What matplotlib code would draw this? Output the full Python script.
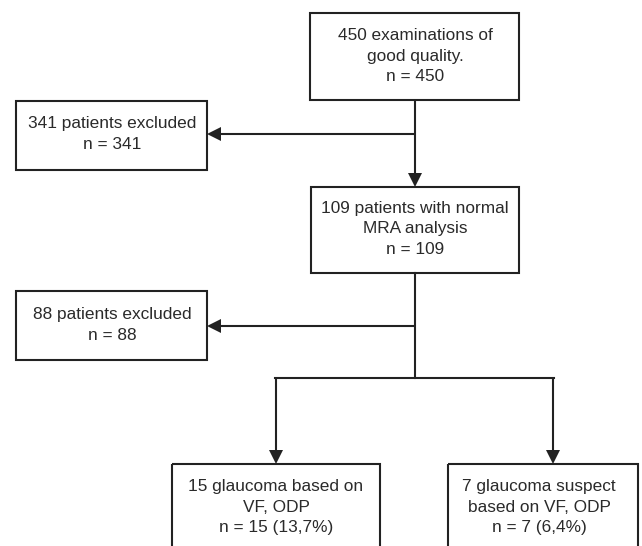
import matplotlib
matplotlib.use("Agg")
import matplotlib.pyplot as plt
from matplotlib.patches import Rectangle, Polygon

plt.rcParams['font.family'] = ['Liberation Sans', 'DejaVu Sans']

# Box texts (flow-chart content)
labels = [
    "450 examinations of\ngood quality.\nn = 450",
    "341 patients excluded\nn = 341",
    "109 patients with normal\nMRA analysis\nn = 109",
    "88 patients excluded\nn = 88",
    "15 glaucoma based on\nVF, ODP\nn = 15 (13,7%)",
    "7 glaucoma suspect\nbased on VF, ODP\nn = 7 (6,4%)",
]
counts = [450, 341, 109, 88, 15, 7]

# layout (pixels): x0, y0, x1, y1 and text centre
boxes = [
    (310, 13, 519, 100, 415, 56),
    (16, 101, 207, 170, 112, 134),
    (311, 187, 519, 273, 415, 229),
    (16, 291, 207, 360, 112, 325),
    (172, 464, 380, 570, 276, 507),
    (448, 464, 638, 570, 539, 507),
]

W, H = 642, 546
fig = plt.figure(figsize=(W / 100, H / 100), dpi=100)
ax = fig.add_axes([0, 0, 1, 1])
ax.set_xlim(0, W)
ax.set_ylim(H, 0)
ax.axis('off')

col = '#222222'
lw = 1.5

for (x0, y0, x1, y1, tx, ty), lab in zip(boxes, labels):
    ax.add_patch(Rectangle((x0, y0), x1 - x0, y1 - y0, fill=False,
                           edgecolor=col, lw=lw))
    ax.text(tx, ty, lab, ha='center', va='center', fontsize=12.4,
            color='#2a2a2a', linespacing=1.42)


def arrow_down(x, y0, y1):
    ax.plot([x, x], [y0, y1 - 12], color=col, lw=lw, solid_capstyle='butt')
    ax.add_patch(Polygon([[x - 7, y1 - 14], [x + 7, y1 - 14], [x, y1]],
                         closed=True, color=col, lw=0))


def arrow_left(x0, x1, y):
    ax.plot([x0, x1 + 12], [y, y], color=col, lw=lw, solid_capstyle='butt')
    ax.add_patch(Polygon([[x1 + 14, y - 7], [x1 + 14, y + 7], [x1, y]],
                         closed=True, color=col, lw=0))


# top -> box 2
arrow_down(415, 100, 187)
arrow_left(415, 207, 134)
# box 2 -> split
ax.plot([415, 415], [273, 378], color=col, lw=lw)
arrow_left(415, 207, 326)
ax.plot([275, 554], [378, 378], color=col, lw=lw, solid_capstyle='projecting')
arrow_down(276, 378, 464)
arrow_down(553, 378, 464)

fig.savefig('out.png', dpi=100)
